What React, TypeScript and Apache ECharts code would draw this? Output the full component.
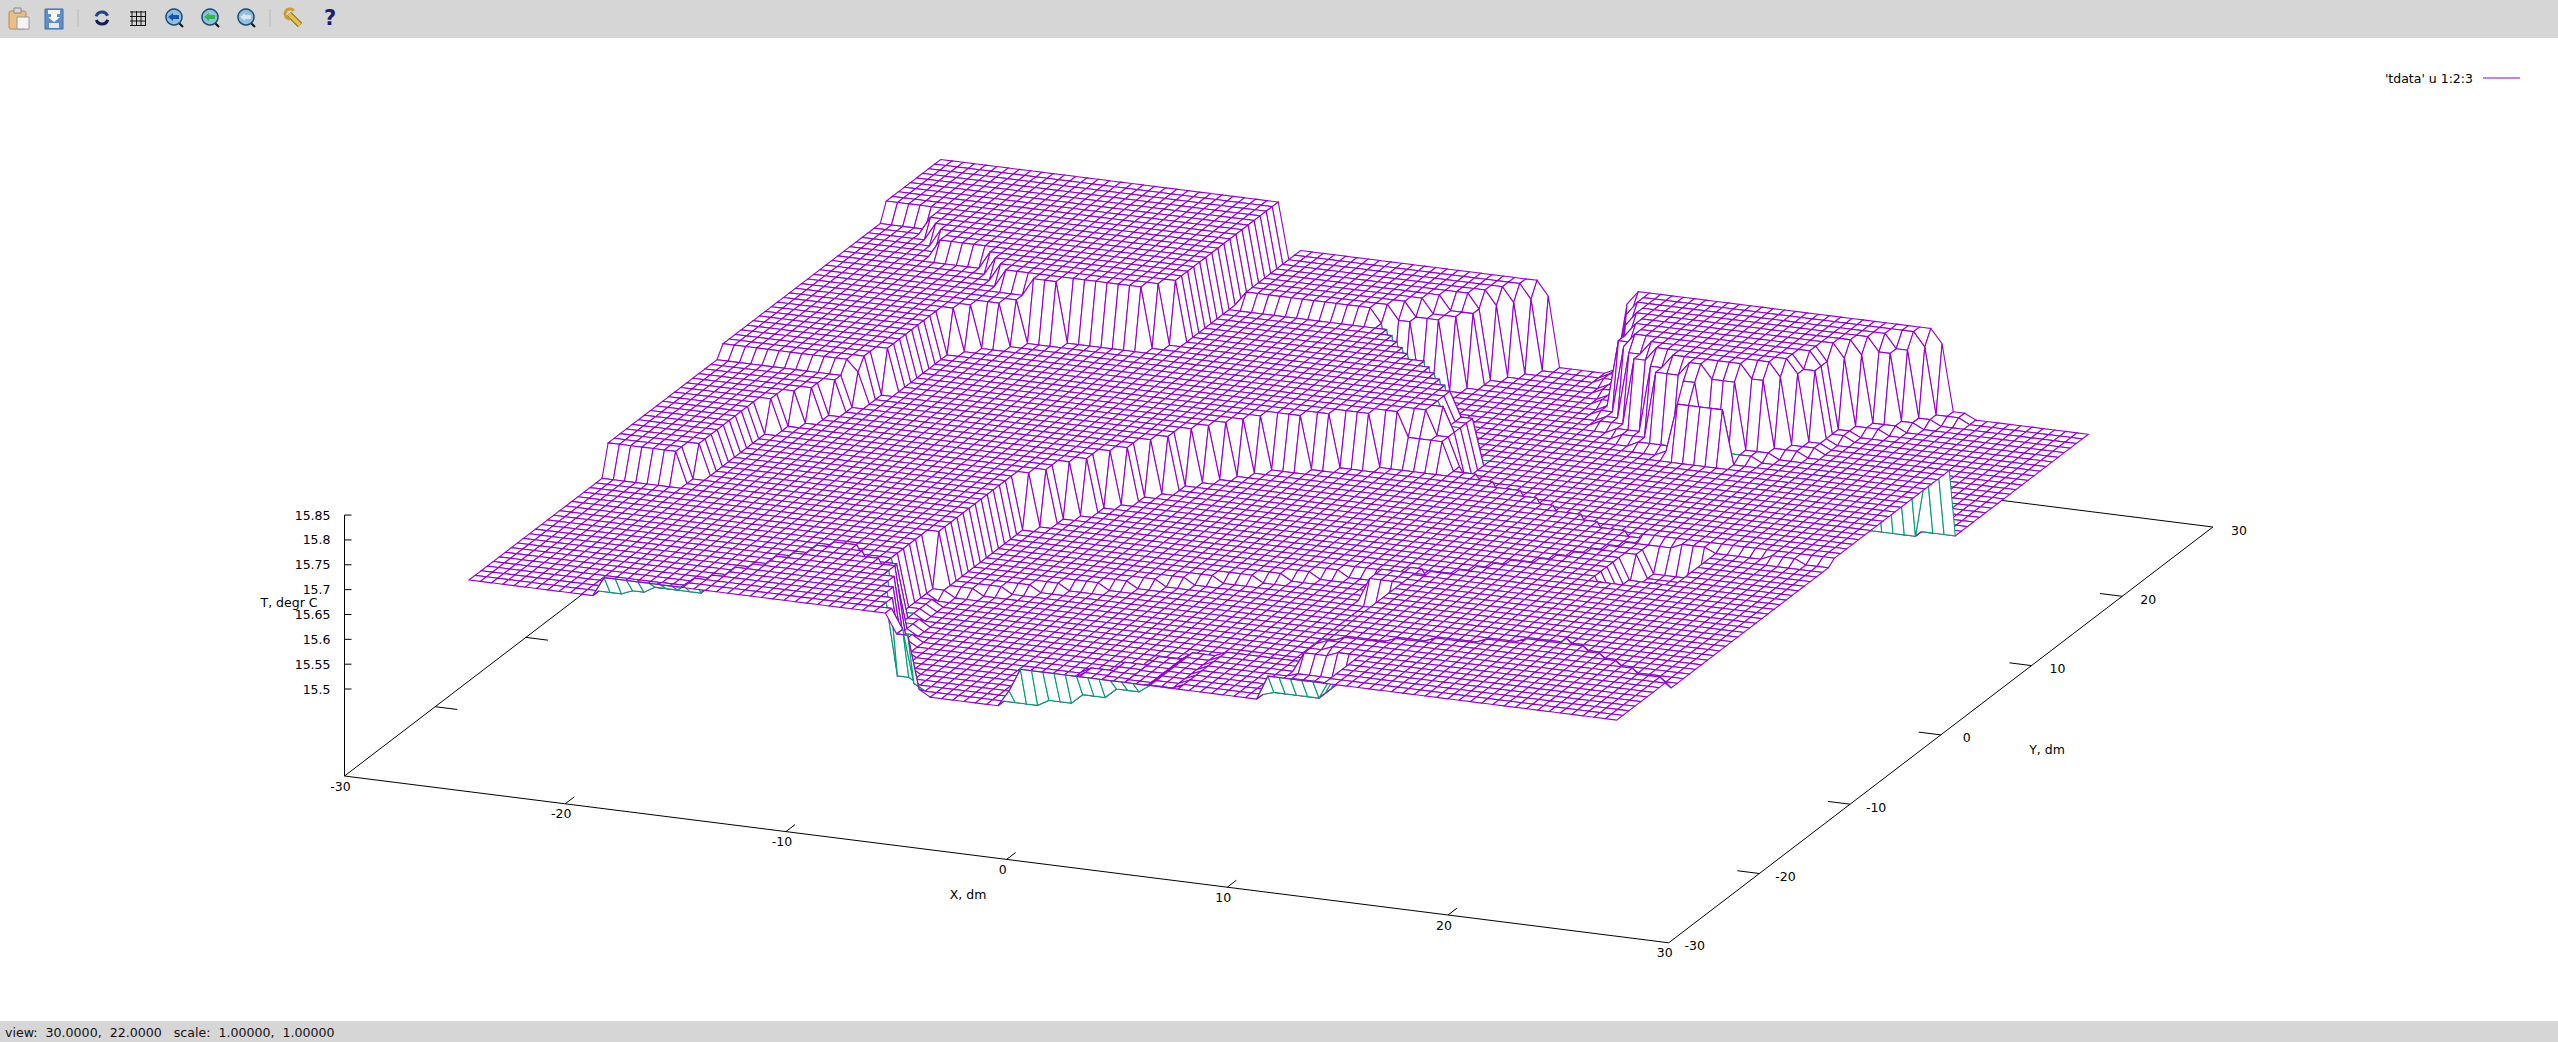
import React, { useEffect, useRef } from "react";
import * as echarts from "echarts";

// Terrace levels (deg C) and outlines (x, y in dm).
// The mesh heights are sampled from these outlines: an approximation, not the original tdata.
const baseLevel = 15.686;
const frontRaisedLevel = 15.725; const frontRaised = [[-20,-26.5],[-7,-26.5],[-7.2,-22.6],[-9,-20],[-12.3,-17.5],[-13.3,-18.6],[-15.4,-22.6],[-16.5,-25],[-16.5,-25.7],[-20,-25.7]];
const rampOneLevel = 15.695; const rampOne = [[-19,-25.7],[-18,-25.7],[-18,-24],[-19,-24]];
const rampTwoLevel = 15.708; const rampTwo = [[-18,-25.7],[-16.5,-25.7],[-16.5,-24],[-18,-24]];
const pitLevel = 15.58; const pit = [[-5,-26.5],[-2.4,-26.5],[-1.5,-25],[3.5,-20],[10,-20],[10,-10],[13.7,-6.2],[17.1,-2],[18,3],[13,5],[3.2,10.5],[1.6,9.1],[-3.2,6.7],[-4.8,5.1],[-10,-5],[-10.3,-17],[-7,-25]];
const pitFrontLevel = 15.567; const pitFront = [[-9.9,-13.5],[6,-4],[10,-7],[10,-20],[3.5,-20],[-1.5,-25],[-2.4,-26.5],[-5,-26.5],[-8,-22]];
const backLowLevel = 15.545; const backLow = [[2,26.5],[-1.5,21],[-3.5,20],[2.7,13],[3.2,10.5],[13,5],[18,3],[21.7,9.8],[26.5,11.2],[26.5,26.5]];
const cornerShoulderLevel = 15.637; const cornerShoulder = [[2.7,13],[3.9,13],[4.1,8.8],[1.6,9.1],[3.2,10.5]];
const rightMidLevel = 15.676; const rightMid = [[10,-20],[20,-16.6],[26.5,-20.6],[26.5,-2],[24,-3],[22,-2],[20,-3],[18,-2],[17,-2],[13.7,-6.2],[10,-10]];
const frontRightLevel = 15.695; const frontRight = [[12.3,-26.5],[26.5,-26.5],[26.5,-20.6],[20,-16.6],[10.3,-20.3],[12.3,-23]];
const riseZeroLevel = 15.567; const riseZero = [[-2.4,-26.5],[0,-26.5],[0,-20],[-2.4,-20]];
const riseOneLevel = 15.58; const riseOne = [[0,-25.7],[1.5,-25.7],[1.5,-20],[0,-20]];
const riseTwoLevel = 15.6; const riseTwo = [[1.5,-25.7],[3,-25.7],[3,-20],[1.5,-20]];
const riseThreeLevel = 15.62; const riseThree = [[3,-25.7],[4.5,-25.7],[4.5,-20],[3,-20]];
const riseFourLevel = 15.636; const riseFour = [[4.5,-25.7],[6,-25.7],[6,-20],[4.5,-20]];
const riseFiveLevel = 15.646; const riseFive = [[6,-25.7],[10,-25.7],[10,-20],[6,-20]];
const frontRowRampLevel = 15.6; const frontRowRamp = [[-1.7,-26.5],[-1.1,-26.5],[-1.1,-25.7],[-1.7,-25.7]];
const frontRowLevel = 15.646; const frontRow = [[-1.1,-26.5],[10,-26.5],[10,-25.7],[-1.1,-25.7]];
const notchBackLevel = 15.653; const notchBack = [[10,-25.7],[12.3,-25.7],[12.3,-22],[10,-22]];
const notchFrontLevel = 15.695; const notchFront = [[10,-26.5],[12.3,-26.5],[12.3,-25.7],[10,-25.7]];
const roughLeftLevel = 15.614; const roughLeft = [[7,-8],[9.5,-7.5],[9.5,-5.5],[8,-5],[7,-6]];
const roughRightLevel = 15.63; const roughRight = [[17.5,-7.5],[20.5,-7],[20.5,-3],[18,-3]];
const stepOneLevel = 15.748; const stepOne = [[-26.5,-11],[-23,-11],[-22.2,-9.2],[-22.2,-3.4],[-20,1],[-19.3,3.8],[-26.5,3.8]];
const stepTwoLevel = 15.771; const stepTwo = [[-26.5,2],[-20,2],[-19.3,3.8],[-19,9.7],[-16.9,11.7],[-16.3,12.6],[-18,13],[-19.8,16],[-22,16],[-24,19.5],[-26.5,19.5]];
const topLevel = 15.807; const top = [[-26.5,19.5],[-24,19.5],[-22,16],[-19.8,16],[-18,13],[-16.3,12.6],[-11.8,12.8],[-10.2,15],[-10.2,26.5],[-26.5,26.5]];
const backMidLevel = 15.715; const backMid = [[-10.1,26.5],[1.2,26.5],[1.2,26],[-4,19.7],[-10.1,19.7]];
const blockFootLevel = 15.556; const blockFoot = [[4.2,26.5],[20.8,26.5],[20.8,25.7],[16.9,21.6],[16.5,19.3],[14.5,17.2],[11.3,16.3],[9,17.2],[6.3,19.6],[4.2,25.5]];
const blockShoulderLevel = 15.69; const blockShoulder = [[4.9,26.5],[19.7,26.5],[19.7,26],[16,22],[15.7,19.8],[13.6,17.9],[11.2,17.1],[9.7,17.9],[7,20.3],[4.9,26]];
const blockLedgeLevel = 15.653; const blockLedge = [[11,16.4],[13.3,16.4],[13.3,17],[11,17]];
const rightBlockLevel = 15.718; const rightBlock = [[5.4,26.5],[19,26.5],[19,26],[15.4,22],[15.2,20.2],[13.3,18.4],[11.2,17.7],[10.1,18.4],[7.5,20.7],[5.4,26]];

const terraces: [number, number[][]][] = [
  [frontRaisedLevel, frontRaised], [rampOneLevel, rampOne], [rampTwoLevel, rampTwo], [pitLevel, pit], [pitFrontLevel, pitFront],
  [backLowLevel, backLow], [cornerShoulderLevel, cornerShoulder], [rightMidLevel, rightMid], [frontRightLevel, frontRight],
  [riseZeroLevel, riseZero], [riseOneLevel, riseOne], [riseTwoLevel, riseTwo], [riseThreeLevel, riseThree], [riseFourLevel, riseFour], [riseFiveLevel, riseFive],
  [frontRowRampLevel, frontRowRamp], [frontRowLevel, frontRow],
  [notchBackLevel, notchBack], [notchFrontLevel, notchFront], [roughLeftLevel, roughLeft], [roughRightLevel, roughRight],
  [stepOneLevel, stepOne], [stepTwoLevel, stepTwo], [topLevel, top], [backMidLevel, backMid],
  [blockFootLevel, blockFoot], [blockShoulderLevel, blockShoulder], [blockLedgeLevel, blockLedge], [rightBlockLevel, rightBlock],
];

const meshColumns = 103;
const meshRows = 79;
const xTicks = [-30, -20, -10, 0, 10, 20, 30];
const yTicks = [-30, -20, -10, 0, 10, 20, 30];
const zTicks = ["15.5", "15.55", "15.6", "15.65", "15.7", "15.75", "15.8", "15.85"];
const zBase = 15.325;

const PURPLE = "#9400d3";
const GREEN = "#009e73";
const FONT = "12.5px 'DejaVu Sans'";
const MESH_WIDTH = 1.1;

const inside = (px: number, py: number, poly: number[][]) => {
  let hit = false;
  for (let a = 0, b = poly.length - 1; a < poly.length; b = a++) {
    const [xa, ya] = poly[a];
    const [xb, yb] = poly[b];
    if (ya > py !== yb > py && px < ((xb - xa) * (py - ya)) / (yb - ya) + xa) hit = !hit;
  }
  return hit;
};
const levelAt = (x: number, y: number) => {
  let level = baseLevel;
  for (const [t, poly] of terraces) if (inside(x, y, poly)) level = t;
  return level;
};
const project = (x: number, y: number, t: number) => [
  344.5 + (x + 30) * 22.07 + (y + 30) * 9.07,
  776 + (x + 30) * 2.78 - (y + 30) * 6.93 - (t - zBase) * 497,
];

const buildCells = () => {
  const xs = Array.from({ length: meshColumns }, (_, i) => -26 + (i * 52) / (meshColumns - 1));
  const ys = Array.from({ length: meshRows }, (_, j) => -26 + (j * 52) / (meshRows - 1));
  const grid = ys.map((y) => xs.map((x) => levelAt(x, y)));
  const isBack = (i: number, j: number) => {
    if (j < 0) return false;
    if (i < 0 || i >= meshColumns - 1 || j >= meshRows - 1) return true;
    const pts = [
      project(xs[i], ys[j], grid[j][i]), project(xs[i + 1], ys[j], grid[j][i + 1]),
      project(xs[i + 1], ys[j + 1], grid[j + 1][i + 1]), project(xs[i], ys[j + 1], grid[j + 1][i]),
    ];
    let area = 0;
    for (let k = 0; k < 4; k++) {
      const n = (k + 1) % 4;
      area += pts[k][0] * pts[n][1] - pts[n][0] * pts[k][1];
    }
    return area > 0;
  };
  const cells: number[][] = [];
  for (let j = meshRows - 2; j >= 0; j--) {
    for (let i = 0; i < meshColumns - 1; i++) {
      cells.push([
        xs[i], ys[j], xs[i + 1], ys[j + 1],
        grid[j][i], grid[j][i + 1], grid[j + 1][i + 1], grid[j + 1][i],
        isBack(i, j) ? 1 : 0,
        isBack(i, j - 1) ? 0 : 1, isBack(i - 1, j) ? 0 : 1,
      ]);
    }
  }
  return cells;
};

const buildAxisLines = () => {
  const lines: number[][] = [
    [-30, -30, zBase, 30, -30, zBase], [30, -30, zBase, 30, 30, zBase],
    [30, 30, zBase, -30, 30, zBase], [-30, 30, zBase, -30, -30, zBase],
    [-30, -30, zBase, -30, -30, 15.85],
  ];
  xTicks.slice(1, -1).forEach((x) => lines.push([x, -30, zBase, x, -29, zBase]));
  yTicks.slice(1, -1).forEach((y) => {
    lines.push([30, y, zBase, 29, y, zBase]);
    lines.push([-30, y, zBase, -29, y, zBase]);
  });
  zTicks.forEach((z) => {
    lines.push([-30, -30, Number(z), -30 + 7 / 22.07, -30, Number(z) + (2.78 * 7) / 22.07 / 497]);
  });
  return lines;
};

const buildLabels = () => {
  const labels: { text: string; px: number[]; align: string }[] = [];
  xTicks.forEach((x) => {
    const p = project(x, -30, zBase);
    labels.push({ text: String(x), px: [p[0] - 4, p[1] + 10], align: "center" });
  });
  yTicks.forEach((y) => {
    const p = project(30, y, zBase);
    labels.push({ text: String(y), px: [p[0] + 26, p[1] + 3], align: "center" });
  });
  zTicks.forEach((z) => {
    const p = project(-30, -30, Number(z));
    labels.push({ text: z, px: [p[0] - 14, p[1]], align: "right" });
  });
  labels.push({ text: "X, dm", px: [968, 894], align: "center" });
  labels.push({ text: "Y, dm", px: [2047, 749], align: "center" });
  labels.push({ text: "T, degr C", px: [289, 602], align: "center" });
  labels.push({ text: "'tdata' u 1:2:3", px: [2473, 78], align: "right" });
  return labels;
};

const toolbar = () => {
  const g: any[] = [
    { type: "rect", shape: { x: 0, y: 0, width: 2558, height: 38 }, style: { fill: "#d6d6d6" }, z: 50 },
    { type: "rect", shape: { x: 0, y: 1021, width: 2558, height: 21 }, style: { fill: "#d6d6d6" }, z: 50 },
    { type: "text", x: 5, y: 1032, z: 51, style: { text: "view:  30.0000,  22.0000   scale:  1.00000,  1.00000", fill: "#111", font: "12.6px 'DejaVu Sans'", verticalAlign: "middle" } },
    { type: "line", shape: { x1: 78, y1: 9, x2: 78, y2: 27 }, style: { stroke: "#b8b8b8", lineWidth: 1 }, z: 51 },
    { type: "line", shape: { x1: 270, y1: 9, x2: 270, y2: 27 }, style: { stroke: "#b8b8b8", lineWidth: 1 }, z: 51 },
    { type: "rect", shape: { x: 9, y: 11, width: 17, height: 18, r: 2 }, style: { fill: "#eebd84", stroke: "#b98a55" }, z: 51 },
    { type: "rect", shape: { x: 14, y: 8, width: 7, height: 5 }, style: { fill: "#d8d8d8", stroke: "#888" }, z: 52 },
    { type: "rect", shape: { x: 17, y: 17, width: 12, height: 12 }, style: { fill: "#f4f4f4", stroke: "#999" }, z: 52 },
    { type: "rect", shape: { x: 45, y: 9, width: 18, height: 20 }, style: { fill: "#5c8fcb", stroke: "#3d6da3" }, z: 51 },
    { type: "rect", shape: { x: 48, y: 10, width: 12, height: 4 }, style: { fill: "#f2f2f2" }, z: 52 },
    { type: "rect", shape: { x: 49, y: 23, width: 10, height: 5 }, style: { fill: "#e8e8e8" }, z: 52 },
    { type: "polygon", shape: { points: [[51, 14], [57, 14], [57, 17], [60, 17], [54, 22], [48, 17], [51, 17]] }, style: { fill: "#fff" }, z: 52 },
    { type: "arc", shape: { cx: 102, cy: 18, r: 6, startAngle: 3.4, endAngle: 5.9 }, style: { stroke: "#17458f", lineWidth: 3, fill: "none" }, z: 51 },
    { type: "arc", shape: { cx: 102, cy: 18, r: 6, startAngle: 0.3, endAngle: 2.8 }, style: { stroke: "#101f52", lineWidth: 3, fill: "none" }, z: 51 },
    { type: "text", x: 330, y: 18, z: 51, style: { text: "?", fill: "#1d1a7a", font: "bold 21px 'DejaVu Sans'", align: "center", verticalAlign: "middle" } },
    { type: "line", shape: { x1: 289, y1: 14, x2: 300, y2: 25 }, style: { stroke: "#7a5a10", lineWidth: 6 }, z: 51 },
    { type: "line", shape: { x1: 289, y1: 14, x2: 300, y2: 25 }, style: { stroke: "#e6c040", lineWidth: 4 }, z: 52 },
    { type: "arc", shape: { cx: 290, cy: 14, r: 5, startAngle: 1.6, endAngle: 5.6 }, style: { stroke: "#c9a030", lineWidth: 3, fill: "none" }, z: 52 },
  ];
  for (let k = 0; k < 4; k++) {
    g.push({ type: "line", shape: { x1: 132 + k * 4.5, y1: 11, x2: 132 + k * 4.5, y2: 26 }, style: { stroke: "#111", lineWidth: 1 }, z: 51 });
    g.push({ type: "line", shape: { x1: 130, y1: 12 + k * 4.5, x2: 146, y2: 12 + k * 4.5 }, style: { stroke: "#111", lineWidth: 1 }, z: 51 });
  }
  [[174, "#1556b0"], [210, "#2eb84a"], [246, "#d8e4ee"]].forEach(([cx, c]: any) => {
    g.push({ type: "line", shape: { x1: cx + 4, y1: 22, x2: cx + 9, y2: 27 }, style: { stroke: "#111", lineWidth: 2 }, z: 51 });
    g.push({ type: "circle", shape: { cx, cy: 17, r: 8 }, style: { fill: "#8fc0dc", stroke: "#184a78", lineWidth: 1.5 }, z: 51 });
    g.push({ type: "polygon", shape: { points: [[cx - 6, 17], [cx - 1, 13], [cx - 1, 15], [cx + 5, 15], [cx + 5, 19], [cx - 1, 19], [cx - 1, 21]] }, style: { fill: c }, z: 52 });
  });
  g.push({ type: "line", shape: { x1: 2483, y1: 78, x2: 2520, y2: 78 }, style: { stroke: PURPLE, lineWidth: 1.2 }, z: 51 });
  return g;
};

export default function App() {
  const ref = useRef<HTMLDivElement>(null);
  useEffect(() => {
    document.body.style.margin = "0";
    document.body.style.overflow = "hidden";
    const chart = echarts.init(ref.current!, undefined, { renderer: "svg" });
    const cells = buildCells();
    const axisLines = buildAxisLines();
    const labels = buildLabels();
    chart.setOption({
      animation: false,
      backgroundColor: "#ffffff",
      grid: { left: 0, right: 0, top: 0, bottom: 0 },
      xAxis: { type: "value", min: 0, max: 2558, show: false },
      yAxis: { type: "value", min: 0, max: 1042, inverse: true, show: false },
      graphic: toolbar(),
      series: [
        {
          type: "custom", silent: true, clip: false, coordinateSystem: "cartesian2d", z: 1,
          data: axisLines, encode: { x: 0, y: 1 },
          renderItem: (_p: any, api: any) => {
            const a = project(api.value(0), api.value(1), api.value(2));
            const b = project(api.value(3), api.value(4), api.value(5));
            const [x1, y1] = api.coord(a);
            const [x2, y2] = api.coord(b);
            return { type: "line", shape: { x1, y1, x2, y2 }, style: { stroke: "#000", lineWidth: 1 } };
          },
        },
        {
          type: "custom", silent: true, clip: false, coordinateSystem: "cartesian2d", z: 2, progressive: 0,
          data: cells, encode: { x: 0, y: 1 },
          renderItem: (_p: any, api: any) => {
            const x0 = api.value(0), y0 = api.value(1), x1 = api.value(2), y1 = api.value(3);
            const pts = [
              project(x0, y0, api.value(4)), project(x1, y0, api.value(5)),
              project(x1, y1, api.value(6)), project(x0, y1, api.value(7)),
            ].map((p) => api.coord(p));
            if (!api.value(8)) {
              return { type: "polygon", shape: { points: pts }, style: { fill: "#ffffff", stroke: PURPLE, lineWidth: MESH_WIDTH } };
            }
            const children: any[] = [
              { type: "polygon", shape: { points: pts }, style: { fill: "#ffffff", stroke: GREEN, lineWidth: MESH_WIDTH } },
            ];
            if (api.value(9)) {
              children.push({ type: "line", shape: { x1: pts[0][0], y1: pts[0][1], x2: pts[1][0], y2: pts[1][1] }, style: { stroke: PURPLE, lineWidth: MESH_WIDTH } });
            }
            if (api.value(10)) {
              children.push({ type: "line", shape: { x1: pts[3][0], y1: pts[3][1], x2: pts[0][0], y2: pts[0][1] }, style: { stroke: PURPLE, lineWidth: MESH_WIDTH } });
            }
            return { type: "group", children };
          },
        },
        {
          type: "custom", silent: true, clip: false, coordinateSystem: "cartesian2d", z: 3,
          data: labels.map((l) => l.px), encode: { x: 0, y: 1 },
          renderItem: (p: any, api: any) => {
            const l = labels[p.dataIndex];
            const [x, y] = api.coord(l.px);
            return { type: "text", x, y, style: { text: l.text, fill: "#000", font: FONT, align: l.align, verticalAlign: "middle" } };
          },
        },
      ],
    });
    return () => chart.dispose();
  }, []);
  return <div ref={ref} style={{ width: 2558, height: 1042 }} />;
}
